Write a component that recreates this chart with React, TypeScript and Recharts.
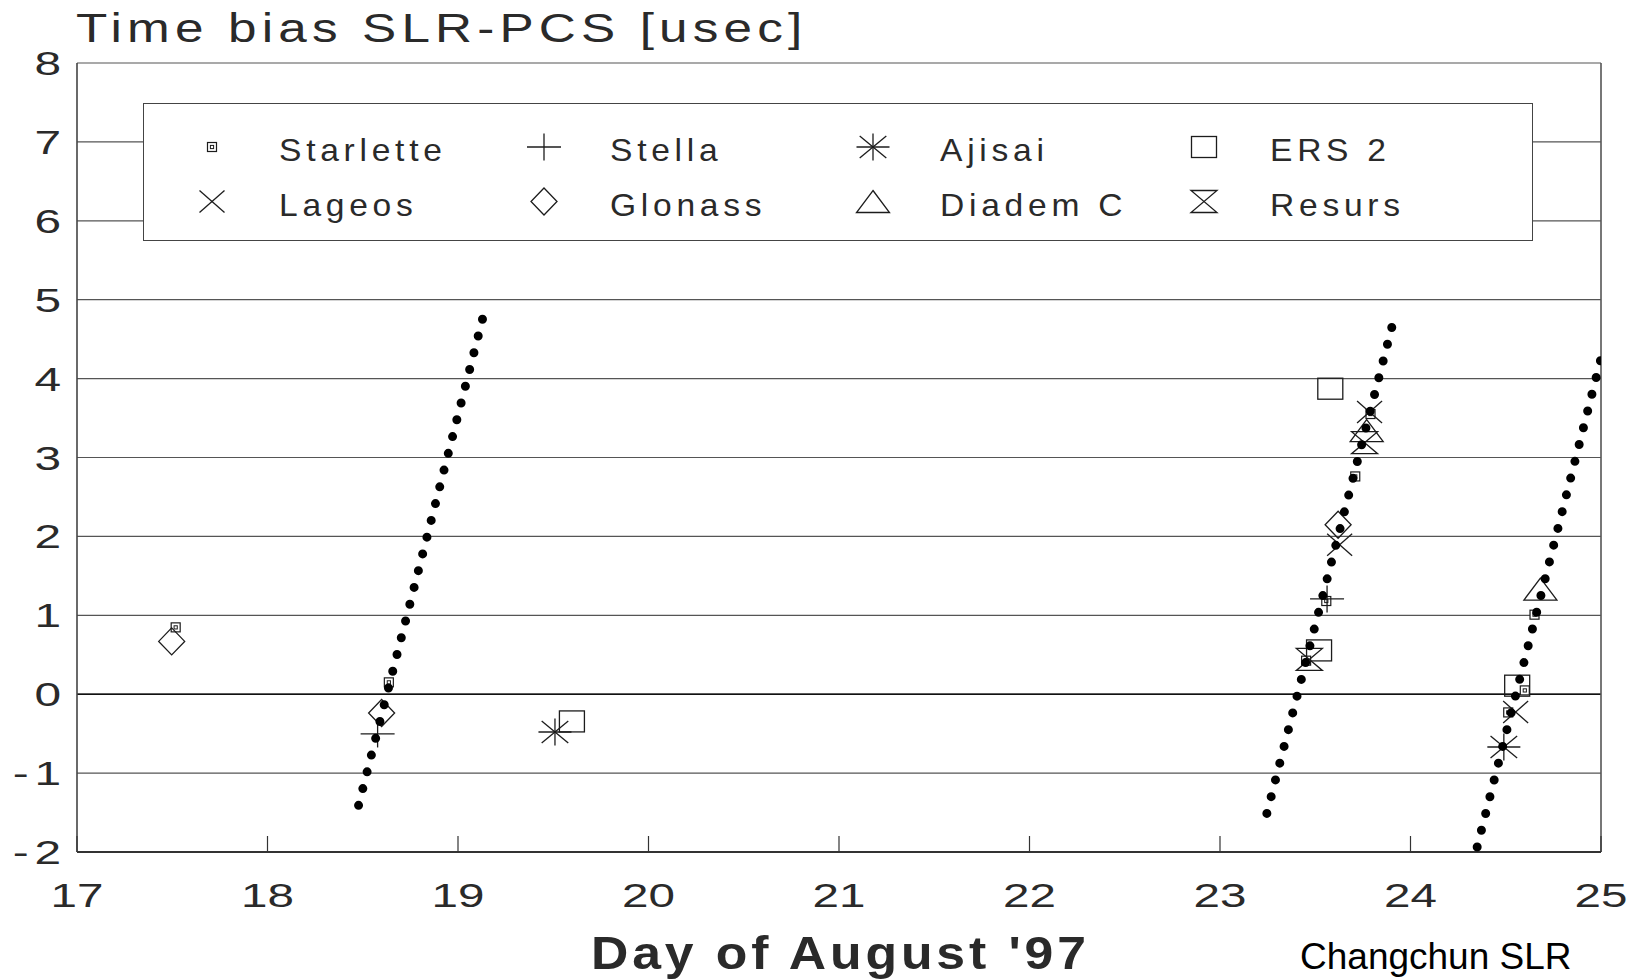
import React from 'react';
import { ScatterChart, Scatter, XAxis, YAxis, CartesianGrid, ReferenceLine, Legend } from 'recharts';

// ---------- data ----------
const xTicks = [17, 18, 19, 20, 21, 22, 23, 24, 25];
const yTicks = [-2, -1, 0, 1, 2, 3, 4, 5, 6, 7, 8];

const starlette = [
  { x: 17.518, y: 0.847 }, { x: 18.637, y: 0.150 }, { x: 23.452, y: 0.425 },
  { x: 23.558, y: 1.181 }, { x: 23.710, y: 2.760 }, { x: 23.790, y: 3.551 },
  { x: 24.513, y: -0.231 }, { x: 24.600, y: 0.048 }, { x: 24.651, y: 1.008 },
];
const stella = [{ x: 18.578, y: -0.504 }, { x: 23.562, y: 1.207 }];
const ajisai = [{ x: 19.509, y: -0.479 }, { x: 24.490, y: -0.669 }];
const ers2 = [{ x: 19.598, y: -0.345 }, { x: 23.520, y: 0.555 }, { x: 23.579, y: 3.872 }, { x: 24.560, y: 0.108 }];
const lageos = [{ x: 23.628, y: 1.895 }, { x: 23.785, y: 3.577 }, { x: 24.552, y: -0.226 }];
const glonass = [{ x: 17.497, y: 0.669 }, { x: 18.599, y: -0.238 }, { x: 23.620, y: 2.148 }];
const diademC = [{ x: 23.770, y: 3.340 }, { x: 24.682, y: 1.333 }];
const resurs = [{ x: 23.469, y: 0.441 }, { x: 23.759, y: 3.188 }];

// model (dotted) segments: start and end points
const model1 = [{ x: 18.478, y: -1.409 }, { x: 19.132, y: 4.786 }];
const model2 = [{ x: 23.246, y: -1.511 }, { x: 23.905, y: 4.679 }];
const model3 = [{ x: 24.350, y: -1.937 }, { x: 25.0, y: 4.256 }];

const titleText = 'Time bias SLR-PCS [usec]';
const xLabelText = "Day of August '97";
const creditText = 'Changchun SLR';

// ---------- styles ----------
const FONT = "'Liberation Sans', Arial, Helvetica, sans-serif";
const INK = '#1c1c1c';
const TXT = '#2a2a2a';

type Drawer = (cx: number, cy: number) => React.ReactElement;

const drawStarlette: Drawer = (cx, cy) => (
  <g>
    <rect x={cx - 4.5} y={cy - 4.5} width={9} height={9} fill="#fff" stroke={INK} strokeWidth={1.2} />
    <rect x={cx - 1.6} y={cy - 1.6} width={3.2} height={3.2} fill="none" stroke={INK} strokeWidth={1} />
  </g>
);
const drawStella: Drawer = (cx, cy) => (
  <g stroke={INK} strokeWidth={1.3}>
    <line x1={cx - 17} x2={cx + 17} y1={cy} y2={cy} />
    <line x1={cx} x2={cx} y1={cy - 13.5} y2={cy + 13.5} />
  </g>
);
const drawAjisai: Drawer = (cx, cy) => (
  <g stroke={INK} strokeWidth={1.3}>
    <line x1={cx - 16.5} x2={cx + 16.5} y1={cy} y2={cy} />
    <line x1={cx} x2={cx} y1={cy - 13.5} y2={cy + 13.5} />
    <line x1={cx - 13.3} x2={cx + 13.3} y1={cy - 11} y2={cy + 11} />
    <line x1={cx - 13.3} x2={cx + 13.3} y1={cy + 11} y2={cy - 11} />
  </g>
);
const drawErs: Drawer = (cx, cy) => (
  <rect x={cx - 12.5} y={cy - 10.5} width={25} height={21} fill="none" stroke={INK} strokeWidth={1.3} />
);
const drawLageos: Drawer = (cx, cy) => (
  <g stroke={INK} strokeWidth={1.3}>
    <line x1={cx - 12.5} x2={cx + 12.5} y1={cy - 11} y2={cy + 11} />
    <line x1={cx - 12.5} x2={cx + 12.5} y1={cy + 11} y2={cy - 11} />
  </g>
);
const drawGlonass: Drawer = (cx, cy) => (
  <path d={`M${cx},${cy - 13.5} L${cx + 13},${cy} L${cx},${cy + 13.5} L${cx - 13},${cy} Z`} fill="none" stroke={INK} strokeWidth={1.3} />
);
const drawDiadem: Drawer = (cx, cy) => (
  <path d={`M${cx},${cy - 11} L${cx + 16.5},${cy + 11} L${cx - 16.5},${cy + 11} Z`} fill="none" stroke={INK} strokeWidth={1.3} />
);
const drawResurs: Drawer = (cx, cy) => (
  <path d={`M${cx - 13},${cy - 11} L${cx + 13},${cy - 11} L${cx - 13},${cy + 11} L${cx + 13},${cy + 11} Z`} fill="none" stroke={INK} strokeWidth={1.3} />
);

const seriesDefs: { name: string; data: { x: number; y: number }[]; draw: Drawer }[] = [
  { name: 'Starlette', data: starlette, draw: drawStarlette },
  { name: 'Lageos', data: lageos, draw: drawLageos },
  { name: 'Stella', data: stella, draw: drawStella },
  { name: 'Glonass', data: glonass, draw: drawGlonass },
  { name: 'Ajisai', data: ajisai, draw: drawAjisai },
  { name: 'Diadem C', data: diademC, draw: drawDiadem },
  { name: 'ERS 2', data: ers2, draw: drawErs },
  { name: 'Resurs', data: resurs, draw: drawResurs },
];

function XTick(props: any) {
  const { x, y, payload } = props;
  return (
    <g>
      <line x1={x} x2={x} y1={y} y2={y - 16} stroke="#333" strokeWidth={1.2} />
      <text transform={`translate(${x},${y + 55}) scale(1.4,1)`} textAnchor="middle" fontSize={34}
        fontFamily={FONT} fill={TXT}>{payload.value}</text>
    </g>
  );
}

function YTick(props: any) {
  const { x, y, payload } = props;
  const v = Number(payload.value);
  return (
    <text transform={`translate(${x - 16},${y + 12}) scale(1.45,1)`} textAnchor="end" fontSize={33}
      fontFamily={FONT} fill={TXT}>
      {v < 0 ? (<><tspan>-</tspan><tspan dx={4}>{Math.abs(v)}</tspan></>) : String(v)}
    </text>
  );
}

const LEG_W = 1390;
const LEG_H = 138;

function LegendBox() {
  // two rows, four columns (column-major order of seriesDefs)
  const colSym = [68, 400, 729, 1060];
  const colTxt = [135, 466, 796, 1126];
  const rowSym = [43, 97.5];
  const rowTxt = [56.5, 112];
  return (
    <div style={{ width: LEG_W, height: LEG_H, border: '1.5px solid #444', background: '#fff', boxSizing: 'border-box' }}>
      <svg width={LEG_W - 3} height={LEG_H - 3} style={{ display: 'block' }}>
        {seriesDefs.map((s, i) => {
          const col = Math.floor(i / 2);
          const row = i % 2;
          return (
            <g key={s.name}>
              {s.draw(colSym[col], rowSym[row])}
              <text transform={`translate(${colTxt[col]},${rowTxt[row]}) scale(1.05,1)`} fontSize={32}
                letterSpacing={4.5} fontFamily={FONT} fill={TXT}>{s.name}</text>
            </g>
          );
        })}
      </svg>
    </div>
  );
}

export default function App() {
  const dotLine = { stroke: '#000', strokeWidth: 9, strokeDasharray: '0 17.3', strokeLinecap: 'round' as const };
  return (
    <div style={{ position: 'absolute', left: 0, top: 0, width: 1640, height: 979, background: '#fff' }}>
      <ScatterChart width={1640} height={979} margin={{ top: 63, right: 39, bottom: 0, left: 0 }}>
        <CartesianGrid horizontal vertical={false} stroke="#555" strokeWidth={1.2} />
        <XAxis type="number" dataKey="x" domain={[17, 25]} ticks={xTicks} allowDataOverflow interval={0}
          height={127} tickSize={0} tickMargin={0} tick={<XTick />} tickLine={false}
          axisLine={{ stroke: '#333', strokeWidth: 2 }}
          label={{
            value: xLabelText,
            content: (p: any) => {
              const vb = p.viewBox || { x: 77, y: 852 };
              return (
                <text transform={`translate(${vb.x + 514},${vb.y + 117}) scale(1.1,1)`} fontSize={47}
                  fontWeight="bold" fontFamily={FONT} fill={TXT} textLength={450}
                  lengthAdjust="spacing">{xLabelText}</text>
              );
            },
          }} />
        <YAxis type="number" dataKey="y" domain={[-2, 8]} ticks={yTicks} allowDataOverflow interval={0}
          width={77} tickSize={0} tickMargin={0} tick={<YTick />} tickLine={false}
          axisLine={{ stroke: '#444', strokeWidth: 1.6 }} />
        <ReferenceLine y={0} stroke="#111" strokeWidth={1.6} />
        <ReferenceLine x={25} stroke="#555" strokeWidth={1.6} />
        <Legend layout="horizontal" verticalAlign="middle" align="center" width={LEG_W} height={LEG_H}
          wrapperStyle={{ left: 143, top: 103, width: LEG_W, height: LEG_H }} content={() => <LegendBox />} />
        {seriesDefs.map((s) => (
          <Scatter key={s.name} name={s.name} data={s.data} isAnimationActive={false}
            shape={(p: any) => s.draw(p.cx, p.cy)} />
        ))}
        <Scatter name="model 1" data={model1} isAnimationActive={false} legendType="none" line={dotLine} shape={() => <g />} />
        <Scatter name="model 2" data={model2} isAnimationActive={false} legendType="none" line={dotLine} shape={() => <g />} />
        <Scatter name="model 3" data={model3} isAnimationActive={false} legendType="none" line={dotLine} shape={() => <g />} />
      </ScatterChart>
      <svg width={1640} height={979} style={{ position: 'absolute', left: 0, top: 0, pointerEvents: 'none' }}>
        <text transform="translate(76,42) scale(1.25,1)" fontSize={41} fontFamily={FONT} fill={TXT}
          textLength={581} lengthAdjust="spacing">{titleText}</text>
        <text x={1300} y={969} fontSize={37} fontFamily={FONT} fill="#000">{creditText}</text>
      </svg>
    </div>
  );
}
